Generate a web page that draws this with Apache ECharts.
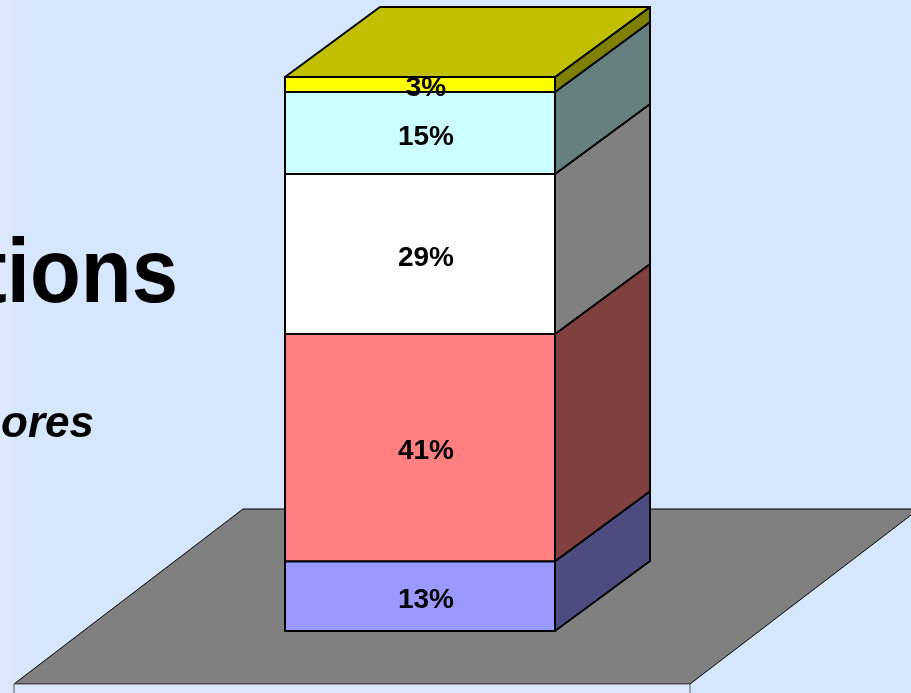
<!DOCTYPE html>
<html>
<head>
<meta charset="utf-8">
<style>
  html, body { margin: 0; padding: 0; }
  #chart { width: 911px; height: 693px; }
</style>
<script src="https://cdn.jsdelivr.net/npm/echarts@6/dist/echarts.min.js"></script>
</head>
<body>
<div id="chart"></div>
<script>
// ---- data ----
const categories = ['Total'];
const values = [12.6, 41.0, 28.9, 14.8, 2.7];   // stacked segments, bottom to top (percent)
const frontColors = ['#9999FF', '#FF8080', '#FFFFFF', '#CCFFFF', '#FFFF00'];
const sideColors  = ['#4C4C80', '#804040', '#808080', '#668080', '#808000'];
const topColor = '#C0C000';

// build stacked items: [categoryIndex, start, end, segmentIndex]
const items = [];
let acc = 0;
values.forEach((v, i) => {
  items.push([0, acc, acc + v, i]);
  acc += v;
});

const DX = 95, DY = -70;

const chart = echarts.init(document.getElementById('chart'));

function renderItem(params, api) {
  const cat = api.value(0);
  const start = api.value(1);
  const end = api.value(2);
  const idx = api.value(3);
  const pb = api.coord([cat, start]);
  const pt = api.coord([cat, end]);
  const bw = api.size([1, 0])[0];
  const x0 = pb[0] - bw / 2, x1 = pb[0] + bw / 2;
  const yb = pb[1], yt = pt[1];
  const line = { stroke: '#000', lineWidth: 2, lineJoin: 'round' };
  const children = [
    {
      type: 'polygon',
      shape: { points: [[x0, yb], [x1, yb], [x1, yt], [x0, yt]] },
      style: Object.assign({ fill: frontColors[idx] }, line)
    },
    {
      type: 'polygon',
      shape: { points: [[x1, yb], [x1 + DX, yb + DY], [x1 + DX, yt + DY], [x1, yt]] },
      style: Object.assign({ fill: sideColors[idx] }, line)
    }
  ];
  if (idx === values.length - 1) {
    children.push({
      type: 'polygon',
      shape: { points: [[x0, yt], [x1, yt], [x1 + DX, yt + DY], [x0 + DX, yt + DY]] },
      style: Object.assign({ fill: topColor }, line)
    });
  }
  children.push({
    type: 'text',
    z2: 10,
    style: {
      text: Math.round(values[idx]) + '%',
      x: pb[0] + 6,
      y: (yb + yt) / 2 + 4,
      textAlign: 'center',
      textVerticalAlign: 'middle',
      font: 'bold 28px "Liberation Sans", Arial, sans-serif',
      fill: '#000'
    }
  });
  return { type: 'group', children: children };
}

const option = {
  animation: false,
  backgroundColor: {
    type: 'linear', x: 0, y: 0, x2: 1, y2: 0,
    colorStops: [
      { offset: 0, color: '#dee9fc' },
      { offset: 0.03, color: '#d6e6fc' },
      { offset: 1, color: '#d6e6fc' }
    ]
  },
  grid: { left: 285, width: 270, top: 77, bottom: 62 },
  xAxis: { type: 'category', data: categories, show: false },
  yAxis: { type: 'value', min: 0, max: 100, show: false },
  graphic: [
    {
      type: 'polygon', z: 0,
      shape: { points: [[243, 509], [919, 509], [690, 684], [14, 684]] },
      style: { fill: '#808080', stroke: '#000', lineWidth: 1 }
    },
    {
      type: 'rect', z: 0,
      shape: { x: 14, y: 684, width: 676, height: 20 },
      style: { fill: '#dde9fc', stroke: '#555', lineWidth: 1 }
    },
    {
      type: 'text', z: 0,
      x: 178, y: 277, scaleX: 0.915,
      style: {
        text: 'tions', x: 0, y: 0,
        textAlign: 'right', textVerticalAlign: 'middle',
        font: 'bold 91px "Liberation Sans", Arial, sans-serif', fill: '#000'
      }
    },
    {
      type: 'text', z: 0,
      style: {
        text: 'ores', x: 94, y: 425,
        textAlign: 'right', textVerticalAlign: 'middle',
        font: 'italic bold 44px "Liberation Sans", Arial, sans-serif', fill: '#000'
      }
    }
  ],
  series: [{
    type: 'custom',
    renderItem: renderItem,
    data: items,
    encode: { x: 0, y: [1, 2] },
    z: 2
  }]
};
chart.setOption(option);
</script>
</body>
</html>
